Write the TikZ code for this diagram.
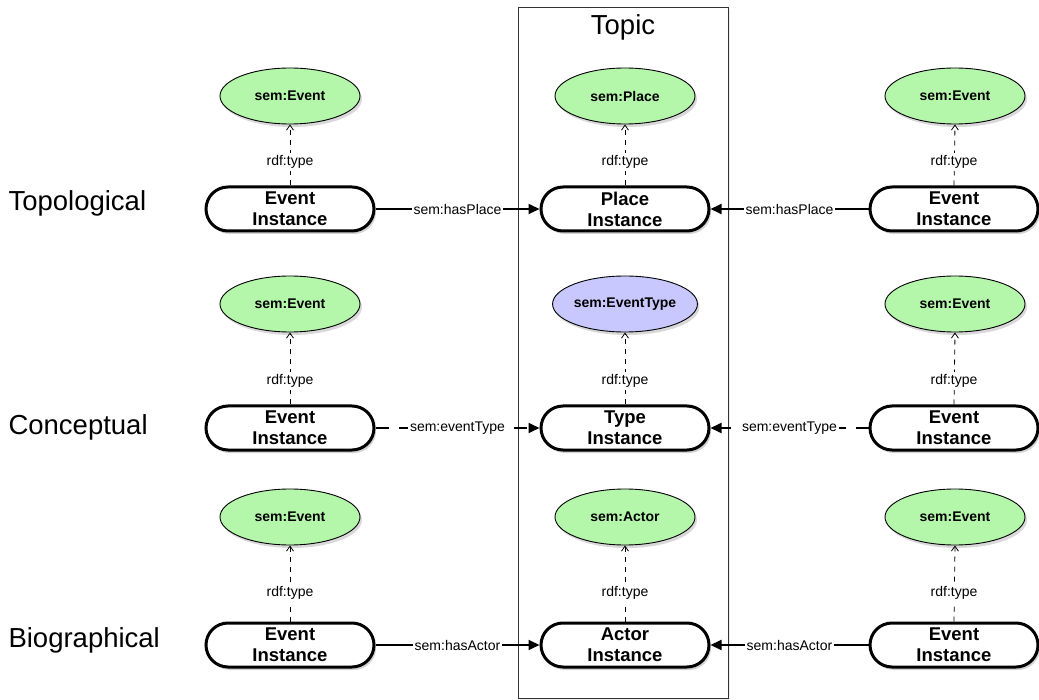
\documentclass[tikz,border=0pt]{standalone}
\usepackage{fontspec}
\setmainfont{Liberation Sans}
\usetikzlibrary{shapes.geometric,shadows,arrows.meta}
\definecolor{egreen}{RGB}{180,246,170}
\definecolor{eblue}{RGB}{200,200,255}
\tikzset{
  inst/.style={draw, line width=3pt, rounded corners=22pt, minimum width=168pt, minimum height=44pt, fill=white, align=center, font=\bfseries\fontsize{18.5}{21}\selectfont, inner sep=0pt, drop shadow={opacity=0.35, shadow xshift=2pt, shadow yshift=-3pt}},
  cls/.style={draw, ellipse, line width=0.9pt, minimum width=140pt, minimum height=56pt, fill=egreen, font=\bfseries\fontsize{14}{16}\selectfont, inner sep=0pt, drop shadow={opacity=0.3, shadow xshift=2pt, shadow yshift=-3pt}},
  typ/.style={draw, dash pattern=on 5pt off 5pt, line width=0.8pt, -{Straight Barb[length=5pt,width=7pt]}},
  rel/.style={draw, line width=1.8pt, -{Triangle[length=11pt,width=10pt]}},
  reldash/.style={rel, dash pattern=on 13pt off 10pt},
  lbl/.style={fill=white, font=\fontsize{14}{16}\selectfont, inner sep=2pt},
  rowlbl/.style={anchor=west, font=\fontsize{27.5}{32}\selectfont},
}
\begin{document}
\begin{tikzpicture}[x=1pt,y=-1pt]
\useasboundingbox (0,0) rectangle (1039,700);
\node[draw=black!80, line width=0.9pt, minimum width=210pt, minimum height=691pt, inner sep=0pt, fill=white, drop shadow={opacity=0.15, shadow xshift=2pt, shadow yshift=-2pt}] (topic) at (623,352.5) {};
\node[font=\fontsize{27.5}{32}\selectfont] (topiclbl) at (623,27) {Topic};

\node[rowlbl] (r1) at (5,203) {Topological};
\node[rowlbl] (r2) at (5,427) {Conceptual};
\node[rowlbl] (r3) at (5,640) {Biographical};

% row 1
\node[cls] (c1l) at (290,96) {sem:Event};
\node[cls] (c1m) at (625,96) {sem:Place};
\node[cls] (c1r) at (955,96) {sem:Event};
\node[inst] (i1l) at (290,209) {Event\\Instance};
\node[inst] (i1m) at (625,209) {Place\\Instance};
\node[inst] (i1r) at (954,209) {Event\\Instance};
% row 2
\node[cls] (c2l) at (290,304) {sem:Event};
\node[cls, fill=eblue] (c2m) at (625,304) {sem:EventType};
\node[cls] (c2r) at (955,304) {sem:Event};
\node[inst] (i2l) at (290,428) {Event\\Instance};
\node[inst] (i2m) at (625,428) {Type\\Instance};
\node[inst] (i2r) at (954,428) {Event\\Instance};
% row 3
\node[cls] (c3l) at (290,517) {sem:Event};
\node[cls] (c3m) at (625,517) {sem:Actor};
\node[cls] (c3r) at (955,517) {sem:Event};
\node[inst] (i3l) at (290,645) {Event\\Instance};
\node[inst] (i3m) at (625,645) {Actor\\Instance};
\node[inst] (i3r) at (954,645) {Event\\Instance};

% rdf:type edges
\foreach \r in {1,2,3}{
  \foreach \c in {l,m,r}{
    \path[typ] (i\r\c.north) -- (c\r\c.south);
  }
}
\node[lbl] (t1l) at (290,162) {rdf:type};
\node[lbl] (t1m) at (625,162) {rdf:type};
\node[lbl] (t1r) at (954,162) {rdf:type};
\node[lbl] (t2l) at (290,381) {rdf:type};
\node[lbl] (t2m) at (625,381) {rdf:type};
\node[lbl] (t2r) at (954,381) {rdf:type};
\node[lbl] (t3l) at (290,593) {rdf:type};
\node[lbl] (t3m) at (625,593) {rdf:type};
\node[lbl] (t3r) at (954,593) {rdf:type};

% relations
\path[rel] (i1l.east) -- node[lbl, pos=0.5] {sem:hasPlace} (i1m.west);
\path[rel] (i1r.west) -- node[lbl, pos=0.5] {sem:hasPlace} (i1m.east);
\path[reldash] (i2l.east) -- node[lbl, pos=0.5] {sem:eventType} (i2m.west);
\path[reldash] (i2r.west) -- node[lbl, pos=0.5] {sem:eventType} (i2m.east);
\path[rel] (i3l.east) -- node[lbl, pos=0.5] {sem:hasActor} (i3m.west);
\path[rel] (i3r.west) -- node[lbl, pos=0.5] {sem:hasActor} (i3m.east);
\end{tikzpicture}
\end{document}
